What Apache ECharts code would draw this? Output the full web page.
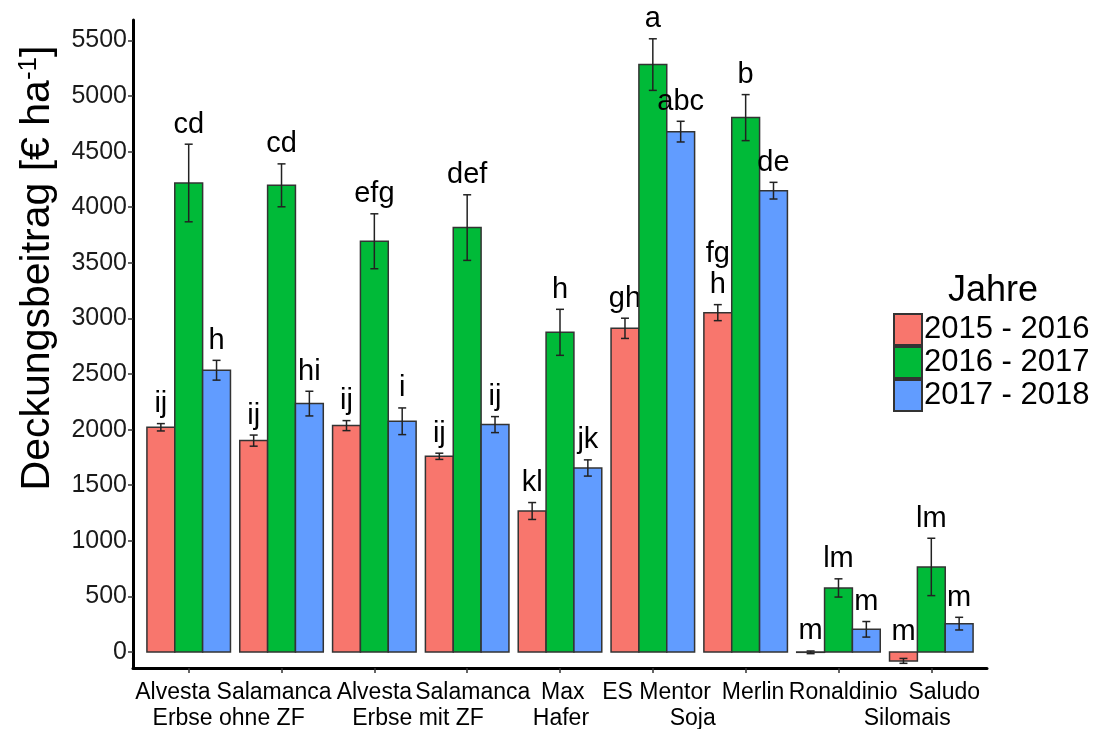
<!DOCTYPE html>
<html>
<head>
<meta charset="utf-8">
<script src="https://cdn.jsdelivr.net/npm/echarts@6/dist/echarts.min.js"></script>
<style>
  html, body { margin: 0; padding: 0; background: #fff; }
  #chart { width: 1101px; height: 729px; }
</style>
</head>
<body>
<div id="chart"></div>
<script>
// Sorten (x-Achse) und Kulturen (zweite Zeile)
const varieties = ['Alvesta', 'Salamanca', 'Alvesta', 'Salamanca', 'Max', 'ES Mentor', 'Merlin', 'Ronaldinio', 'Saludo'];
const varietyPos = [1, 2, 3, 4, 5, 6, 7, 8, 9];
const varietyLabelPos = [0.83, 1.92, 3.0, 4.06, 5.03, 6.04, 7.08, 8.05, 9.14];
const crops = ['Erbse ohne ZF', 'Erbse mit ZF', 'Hafer', 'Soja', 'Silomais'];
const cropPos = [1.43, 3.47, 5.01, 6.43, 8.74];
const years = ['2015 - 2016', '2016 - 2017', '2017 - 2018'];
const yTicks = [0, 500, 1000, 1500, 2000, 2500, 3000, 3500, 4000, 4500, 5000, 5500];

// Mittelwerte und Standardfehler je Jahr
const mean2015 = [2021, 1901, 2036, 1760, 1268, 2911, 3052, -3, -80];
const se2015 = [33, 50, 45, 28, 76, 91, 72, 12, 22];
const mean2016 = [4218, 4197, 3694, 3817, 2875, 5283, 4806, 576, 765];
const se2016 = [349, 193, 247, 295, 207, 232, 207, 82, 258];
const mean2017 = [2534, 2234, 2075, 2045, 1655, 4680, 4149, 204, 255];
const se2017 = [89, 111, 120, 72, 73, 93, 75, 70, 57];

// Buchstaben (Signifikanzgruppen)
const letters2015 = ['ij', 'ij', 'ij', 'ij', 'kl', 'gh', 'fg\nh', 'm', 'm'];
const letters2016 = ['cd', 'cd', 'efg', 'def', 'h', 'a', 'b', 'lm', 'lm'];
const letters2017 = ['h', 'hi', 'i', 'ij', 'jk', 'abc', 'de', 'm', 'm'];

const colors = ['#F8766D', '#00BA38', '#619CFF'];
const FONT = '"Liberation Sans", Arial, Helvetica, sans-serif';
const BAR_W = 0.3;

let myChart = echarts.init(document.getElementById('chart'), null, { renderer: 'canvas' });

function makeSeries(idx, means, ses, labels) {
  const offset = (idx - 1) * BAR_W;
  return {
    name: years[idx],
    type: 'custom',
    itemStyle: { color: colors[idx], borderColor: '#333', borderWidth: 1.5 },
    encode: { x: 0, y: 1 },
    data: varietyPos.map((p, i) => [p, means[i], ses[i]]),
    renderItem: function (params, api) {
      const x = api.value(0) + offset;
      const v = api.value(1);
      const se = api.value(2);
      const p0 = api.coord([x - BAR_W / 2, 0]);
      const p1 = api.coord([x + BAR_W / 2, v]);
      const cx = api.coord([x, 0])[0];
      const yHi = api.coord([x, v + se])[1];
      const yLo = api.coord([x, v - se])[1];
      const yLab = api.coord([x, Math.max(v + se, 0)])[1];
      const lineStyle = { stroke: '#222', lineWidth: 1.5 };
      return {
        type: 'group',
        children: [
          {
            type: 'rect',
            shape: {
              x: p0[0], y: Math.min(p0[1], p1[1]),
              width: p1[0] - p0[0], height: Math.abs(p1[1] - p0[1])
            },
            style: { fill: colors[idx], stroke: '#333', lineWidth: 1.5 }
          },
          { type: 'line', shape: { x1: cx, y1: yHi, x2: cx, y2: yLo }, style: lineStyle },
          { type: 'line', shape: { x1: cx - 4, y1: yHi, x2: cx + 4, y2: yHi }, style: lineStyle },
          { type: 'line', shape: { x1: cx - 4, y1: yLo, x2: cx + 4, y2: yLo }, style: lineStyle },
          {
            type: 'text',
            x: cx, y: yLab - 4,
            style: {
              text: labels[params.dataIndex],
              fill: '#000',
              font: '29px ' + FONT,
              align: 'center',
              verticalAlign: 'bottom',
              lineHeight: 31
            }
          }
        ]
      };
    }
  };
}

let option = {
  animation: false,
  textStyle: { fontFamily: FONT },
  grid: { left: 133, right: 114, top: 20, bottom: 61, outerBoundsMode: 'none' },
  title: {
    text: 'Jahre',
    left: 943,
    top: 268,
    textStyle: { fontFamily: FONT, fontSize: 36, fontWeight: 'normal', color: '#000' }
  },
  legend: {
    orient: 'vertical',
    left: 893,
    top: 313,
    padding: 0,
    itemWidth: 28,
    itemHeight: 31,
    itemGap: 0,
    icon: 'rect',
    selectedMode: false,
    data: years,
    textStyle: { fontFamily: FONT, fontSize: 31, color: '#000', lineHeight: 31, padding: [0, 0, 0, -3] }
  },
  xAxis: [
    {
      type: 'value',
      min: 0.4,
      max: 9.6,
      axisLine: { show: true, onZero: false, lineStyle: { color: '#000', width: 3 } },
      axisTick: { show: true, customValues: varietyPos, length: 5, lineStyle: { color: '#333', width: 1.5 } },
      axisLabel: {
        customValues: varietyLabelPos,
        formatter: (v) => varieties[varietyLabelPos.indexOf(v)],
        fontSize: 23,
        color: '#000',
        margin: 13
      },
      splitLine: { show: false }
    },
    {
      type: 'value',
      position: 'bottom',
      offset: 26,
      min: 0.4,
      max: 9.6,
      axisLine: { show: false, onZero: false },
      axisTick: { show: false },
      axisLabel: {
        customValues: cropPos,
        formatter: (v) => crops[cropPos.indexOf(v)],
        fontSize: 23,
        color: '#000',
        margin: 13
      },
      splitLine: { show: false }
    }
  ],
  yAxis: {
    type: 'value',
    min: -144,
    max: 5684,
    axisLine: { show: true, onZero: false, lineStyle: { color: '#000', width: 3 } },
    axisTick: { show: true, customValues: yTicks, length: 5, lineStyle: { color: '#333', width: 1.5 } },
    axisLabel: {
      customValues: yTicks,
      formatter: (v) => String(v),
      fontSize: 25,
      color: '#1a1a1a',
      margin: 6
    },
    splitLine: { show: false }
  },
  graphic: [
    {
      type: 'text',
      x: 38,
      y: 268,
      rotation: Math.PI / 2,
      style: {
        text: '{a|Deckungsbeitrag [€ ha}{s|-1}{a|]}',
        align: 'center',
        verticalAlign: 'middle',
        fill: '#000',
        rich: {
          a: { fontFamily: FONT, fontSize: 41, lineHeight: 46, fill: '#000' },
          s: { fontFamily: FONT, fontSize: 26, lineHeight: 46, fill: '#000', padding: [0, 0, 18, 0] }
        }
      }
    }
  ],
  series: [
    makeSeries(0, mean2015, se2015, letters2015),
    makeSeries(1, mean2016, se2016, letters2016),
    makeSeries(2, mean2017, se2017, letters2017)
  ]
};

myChart.setOption(option, true);
</script>
</body>
</html>
